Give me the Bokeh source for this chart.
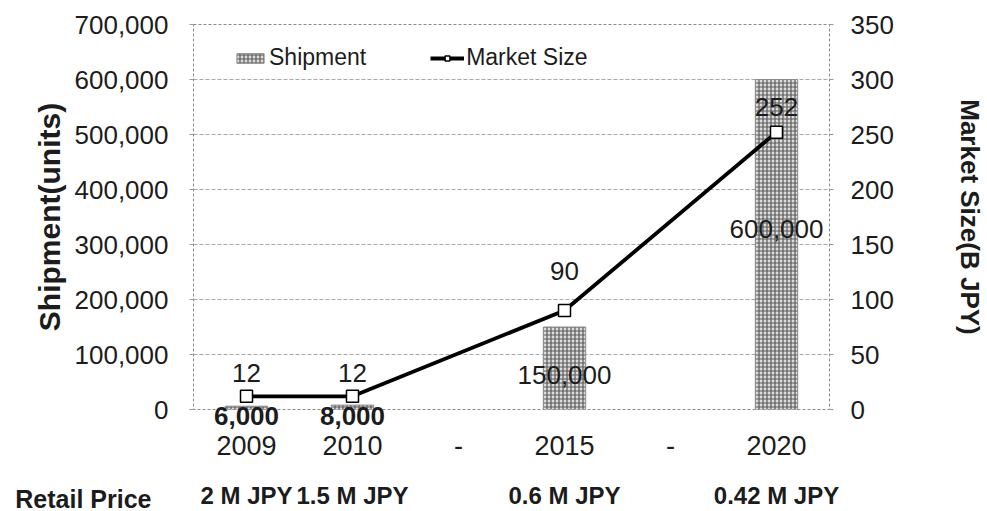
from bokeh.plotting import figure
from bokeh.layouts import column
from bokeh.models import (Range1d, LinearAxis, CategoricalAxis, ColumnDataSource,
                          LabelSet, Legend, LegendItem, NumeralTickFormatter,
                          SingleIntervalTicker, FixedTicker, CustomJSTickFormatter)
from bokeh.core.properties import value
from bokeh.embed import file_html
from bokeh.resources import INLINE

# Category slots along the x axis (the two gaps are shown as "-")
categories = ["2009", "2010", "gap1", "2015", "gap2", "2020"]
category_labels = ["2009", "2010", "-", "2015", "-", "2020"]

# Series
years = ["2009", "2010", "2015", "2020"]
shipment_units = [6000, 8000, 150000, 600000]
market_size_bjpy = [12, 12, 90, 252]
retail_prices = ["2 M JPY", "1.5 M JPY", "0.6 M JPY", "0.42 M JPY"]

# Label nudges in screen pixels
ship_label_dy = [-8, -8, -7, 16]
market_label_dy = [23, 23, 40, 25]

FONT = "Liberation Sans"
INK = "#1c1c1c"

# Frame geometry shared by the chart and the price row beneath it
W = 987
LEFT, RIGHT, TOP = 193, 155, 24
CHART_H, PRICE_H = 481, 30
BOTTOM = 72

p = figure(x_range=categories, y_range=Range1d(0, 700000),
           width=W, height=CHART_H, output_backend="svg", toolbar_location=None,
           x_axis_location=None,
           min_border_left=LEFT, min_border_right=RIGHT, min_border_top=TOP,
           min_border_bottom=BOTTOM, background_fill_color="white",
           border_fill_color="white")

p.outline_line_color = "#8a8a8a"
p.outline_line_dash = "3 2"
p.xgrid.grid_line_color = None
p.ygrid.grid_line_color = "#a8a8a8"
p.ygrid.grid_line_dash = "4 2"
p.ygrid.ticker = SingleIntervalTicker(interval=100000)

# Left axis: shipments
ly = p.yaxis[0]
ly.ticker = SingleIntervalTicker(interval=100000)
ly.formatter = NumeralTickFormatter(format="0,0")
ly.axis_line_color = None
ly.major_tick_in = 0
ly.major_tick_out = 4
ly.major_tick_line_color = "#999999"
ly.minor_tick_line_color = None
ly.major_label_standoff = 21
ly.major_label_text_font = FONT
ly.major_label_text_font_size = "26px"
ly.major_label_text_color = INK
ly.axis_label = "Shipment(units)"
ly.axis_label_text_font = FONT
ly.axis_label_text_font_size = "30px"
ly.axis_label_text_font_style = "bold"
ly.axis_label_text_color = INK
ly.axis_label_standoff = 6

# Right axis: market size
p.extra_y_ranges = {"market": Range1d(0, 350)}
ry = LinearAxis(y_range_name="market", ticker=SingleIntervalTicker(interval=50))
ry.axis_line_color = None
ry.major_tick_in = 0
ry.major_tick_out = 4
ry.major_tick_line_color = "#999999"
ry.minor_tick_line_color = None
ry.major_label_standoff = 17
ry.major_label_text_font = FONT
ry.major_label_text_font_size = "26px"
ry.major_label_text_color = INK
ry.axis_label = "Market Size(B JPY)"
ry.axis_label_text_font = FONT
ry.axis_label_text_font_size = "26px"
ry.axis_label_text_font_style = "bold"
ry.axis_label_text_color = INK
ry.axis_label_standoff = 58
p.add_layout(ry, "right")

# Values of bars too short to hold their label sit on the baseline
small_bar_labels = {y: f"{v:,}" for y, v in zip(years, shipment_units) if v < 50000}
sx = CategoricalAxis(formatter=CustomJSTickFormatter(
    args=dict(labels=small_bar_labels), code="return labels[tick] || ''"))
sx.axis_line_color = None
sx.major_tick_line_color = None
sx.major_label_standoff = -9
sx.major_label_text_font = FONT
sx.major_label_text_font_size = "26px"
sx.major_label_text_font_style = "bold"
sx.major_label_text_color = INK
p.add_layout(sx, "below")

# Year axis
bx = CategoricalAxis(formatter=CustomJSTickFormatter(
    args=dict(labels=dict(zip(categories, category_labels))),
    code="return labels[tick]"))
bx.axis_line_color = None
bx.major_tick_line_color = None
bx.major_label_standoff = 2
bx.major_label_text_font = FONT
bx.major_label_text_font_size = "27px"
bx.major_label_text_color = INK
p.add_layout(bx, "below")

# Shipment bars
bars = p.vbar(x=years, top=shipment_units, width=0.4,
              fill_color="#dcdcdc", line_color="#8c8c8c", line_width=1,
              hatch_pattern="+", hatch_color="#5a5a5a", hatch_scale=4,
              hatch_weight=1.2)

# Market size line
msrc = ColumnDataSource(dict(x=years, y=market_size_bjpy))
line = p.line("x", "y", source=msrc, y_range_name="market",
              line_color="black", line_width=3.8)
marks = p.scatter("x", "y", source=msrc, y_range_name="market", marker="square",
                  size=12, fill_color="white", line_color="black", line_width=1.5)

# Value labels inside the tall bars
in_bar = [v >= 50000 for v in shipment_units]
ship_src = ColumnDataSource(dict(
    x=[y for y, k in zip(years, in_bar) if k],
    y=[v / 2 for v, k in zip(shipment_units, in_bar) if k],
    text=[f"{v:,}" for v, k in zip(shipment_units, in_bar) if k],
    dy=[d for d, k in zip(ship_label_dy, in_bar) if k]))
p.add_layout(LabelSet(x="x", y="y", text="text", y_offset="dy", source=ship_src,
                      text_align="center", text_baseline="middle",
                      text_font=value(FONT), text_font_size="26px",
                      text_color=INK))

mk_src = ColumnDataSource(dict(
    x=years, y=market_size_bjpy, text=[str(v) for v in market_size_bjpy],
    dy=market_label_dy))
p.add_layout(LabelSet(x="x", y="y", text="text", y_offset="dy", source=mk_src,
                      y_range_name="market", text_align="center",
                      text_baseline="middle", text_font=value(FONT),
                      text_font_size="26px", text_color=INK))

legend = Legend(items=[LegendItem(label="Shipment", renderers=[bars]),
                       LegendItem(label="Market Size", renderers=[line, marks])],
                location=(40, 338), orientation="horizontal",
                glyph_width=34, glyph_height=12, label_standoff=2, spacing=64,
                padding=0, margin=0, border_line_color=None,
                background_fill_alpha=0, label_text_font=FONT,
                label_text_font_size="23px", label_text_color=INK)
p.add_layout(legend)

# Retail price row, sharing the category axis of the chart above
q = figure(x_range=p.x_range, y_range=Range1d(0, 2), width=W, height=PRICE_H,
           output_backend="svg", toolbar_location=None,
           x_axis_location=None, y_axis_location=None,
           min_border_left=LEFT, min_border_right=RIGHT, min_border_top=0,
           min_border_bottom=0, outline_line_color=None,
           background_fill_color="white", border_fill_color="white")
q.xgrid.grid_line_color = None
q.ygrid.grid_line_color = None

price_of = dict(zip(years, retail_prices))
qx = CategoricalAxis(formatter=CustomJSTickFormatter(
    args=dict(labels=price_of), code="return labels[tick] || ''"))
qx.axis_line_color = None
qx.major_tick_line_color = None
qx.major_label_standoff = -28
qx.major_label_text_font = FONT
qx.major_label_text_font_size = "24px"
qx.major_label_text_font_style = "bold"
qx.major_label_text_color = INK
q.add_layout(qx, "below")

qy = LinearAxis(ticker=FixedTicker(ticks=[1]),
                major_label_overrides={1: "Retail Price"})
qy.axis_line_color = None
qy.major_tick_line_color = None
qy.minor_tick_line_color = None
qy.major_label_standoff = 36
qy.major_label_text_font = FONT
qy.major_label_text_font_size = "25px"
qy.major_label_text_font_style = "bold"
qy.major_label_text_color = INK
q.add_layout(qy, "left")

open("out.html", "w").write(file_html(column(p, q), INLINE))
